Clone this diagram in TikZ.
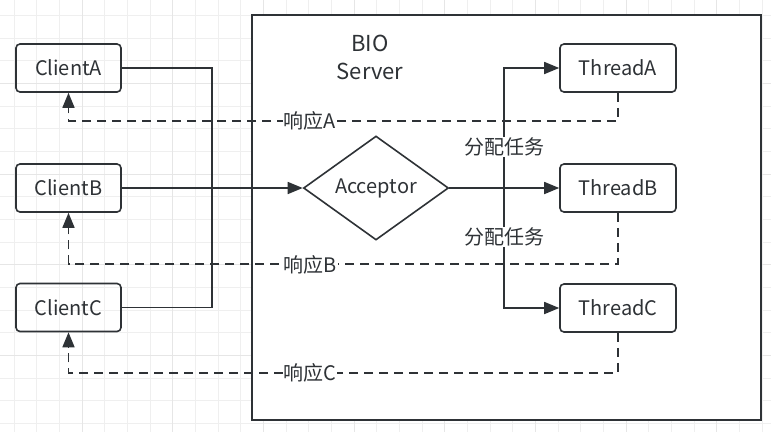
\documentclass[tikz,border=0pt]{standalone}
\usepackage{fontspec}
\setmainfont{Noto Sans CJK SC}
\usetikzlibrary{arrows.meta,shapes.geometric}
\definecolor{ink}{HTML}{2E3236}
\definecolor{gridc}{HTML}{EFEFEF}
\definecolor{gridd}{HTML}{E6E6E6}
\tikzset{
  box/.style={draw=ink, line width=1.6pt, rounded corners=4pt, minimum width=105pt,
    minimum height=48pt, inner sep=0pt, text=ink},
  flow/.style={draw=ink, line width=1.6pt},
  tip/.style={-{Triangle[length=15pt,width=12pt]}},
  resp/.style={flow, dash pattern=on 9pt off 6pt},
  lbl/.style={fill=white, inner sep=1pt, text=ink},
}
\begin{document}
\begin{tikzpicture}[x=1pt, y=-1pt, every node/.style={font=\fontsize{20}{24}\selectfont}]
    \useasboundingbox (0,0) rectangle (771,432);
    \fill[white] (0,0) rectangle (771,432);
    % background grid
    \foreach \k in {0,...,33}
      \draw[gridc, line width=1pt] (14+22.67*\k,0) -- (14+22.67*\k,432);
    \foreach \k in {0,...,18}
      \draw[gridc, line width=1pt] (0,15.5+22.67*\k) -- (771,15.5+22.67*\k);
    \foreach \k in {3,7,...,31}
      \draw[gridd, line width=1pt] (14+22.67*\k,0) -- (14+22.67*\k,432);
    \foreach \k in {3,7,...,15}
      \draw[gridd, line width=1pt] (0,15.5+22.67*\k) -- (771,15.5+22.67*\k);
    % server
    \node[draw=ink, fill=white, line width=1.8pt, minimum width=509pt, minimum height=405pt,
      anchor=north west, inner sep=0pt] (server) at (251,14) {};
    \node[align=center, text=ink, font=\fontsize{22}{28}\selectfont] (title) at (370,57) {BIO\\Server};
    % clients and threads
    \node[box] (clientA) at (68.5,68) {ClientA};
    \node[box] (clientB) at (68.5,188) {ClientB};
    \node[box] (clientC) at (68.5,307.5) {ClientC};
    \node[box, minimum width=116pt] (threadA) at (618,68) {ThreadA};
    \node[box, minimum width=116pt] (threadB) at (618,188) {ThreadB};
    \node[box, minimum width=116pt] (threadC) at (618,308) {ThreadC};
    \node[draw=ink, line width=1.6pt, diamond, aspect=1.394, minimum width=145pt,
      minimum height=104pt, inner sep=0pt, text=ink] (acceptor) at (376,188) {Acceptor};
    % requests
    \coordinate (join) at (212,188);
    \coordinate (fork) at (504,188);
    \draw[flow] (clientA.east) -| (join);
    \draw[flow] (clientC.east) -| (join);
    \draw[flow, tip] (clientB.east) -- (acceptor.west);
    \draw[flow, tip] (acceptor.east) -- (threadB.west);
    \draw[flow, tip] (fork) |- (threadA.west);
    \draw[flow, tip] (fork) |- (threadC.west);
    \node[lbl] (taskA) at (504,147) {分配任务};
    \node[lbl] (taskC) at (504,237) {分配任务};
    % responses
    \draw[resp, tip] (threadA.south) -- ++(0,28) -| (clientA.south);
    \draw[resp, tip] (threadB.south) -- ++(0,51) -| (clientB.south);
    \draw[resp, tip] (threadC.south) -- ++(0,40) -| (clientC.south);
    \node[lbl] (respA) at (310,121) {响应A};
    \node[lbl] (respB) at (310,265) {响应B};
    \node[lbl] (respC) at (310,373) {响应C};
\end{tikzpicture}
\end{document}
